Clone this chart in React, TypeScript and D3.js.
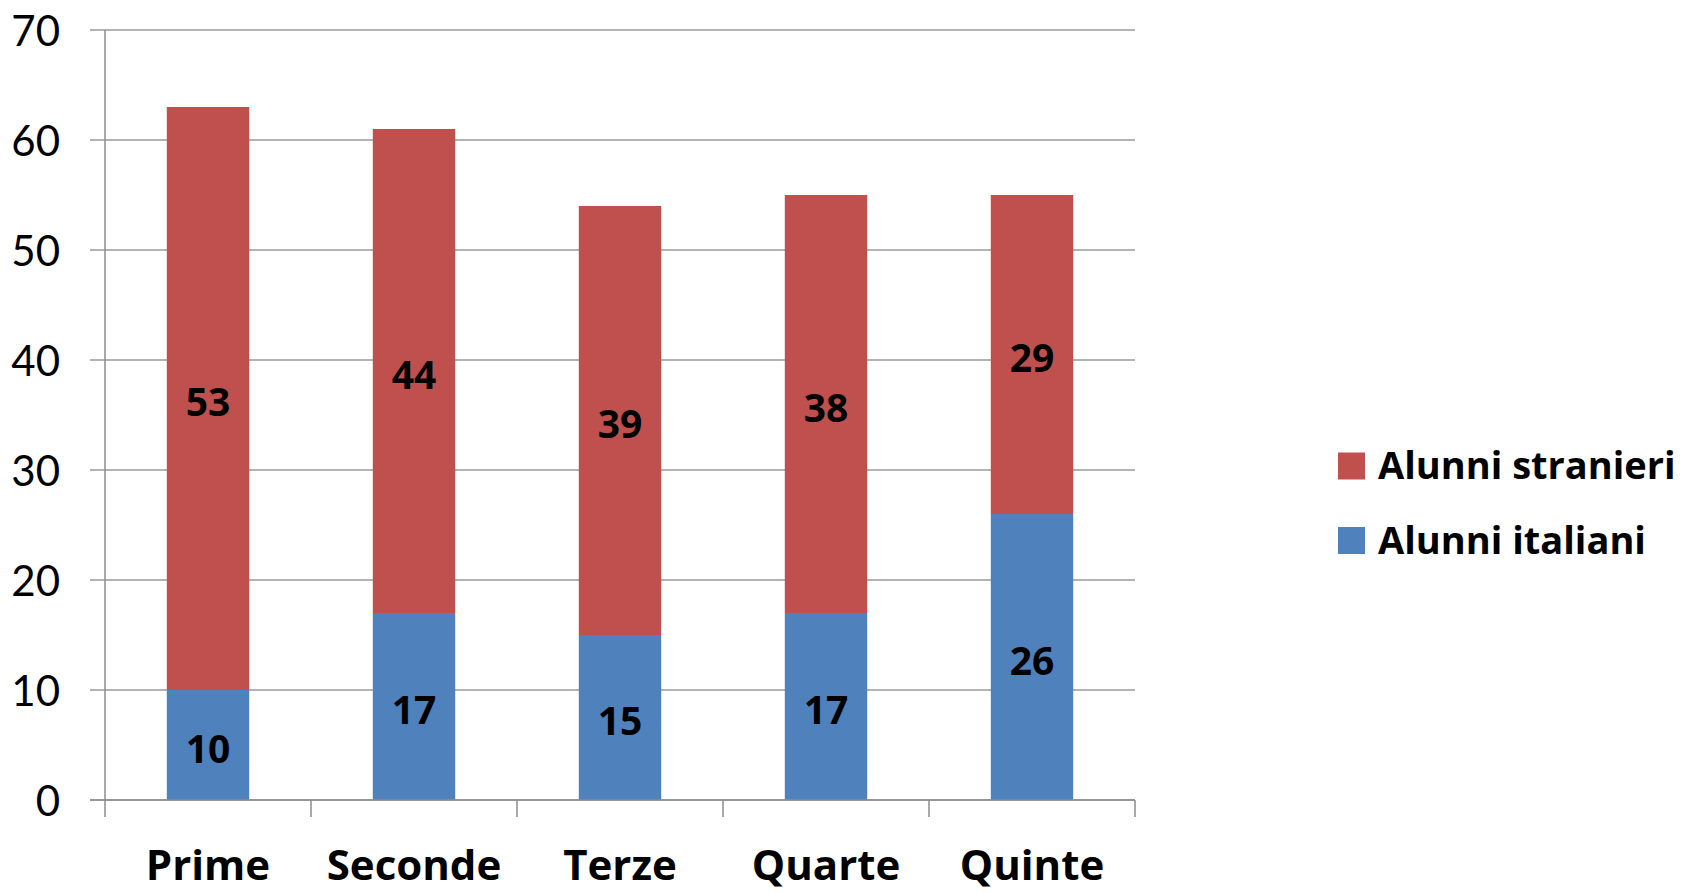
import React, { useRef, useEffect } from 'react';
import * as d3 from 'd3';

const categories = ['Prime', 'Seconde', 'Terze', 'Quarte', 'Quinte'];
const italiani = [10, 17, 15, 17, 26];
const stranieri = [53, 44, 39, 38, 29];
const yTicks = [0, 10, 20, 30, 40, 50, 60, 70];

const seriesNames = ['Alunni italiani', 'Alunni stranieri'];
const seriesColors = ['#4F81BD', '#C0504D'];

const W = 1692;
const H = 893;

export default function App() {
    const svgRef = useRef<SVGSVGElement>(null);

    useEffect(() => {
        document.body.style.margin = '0';
        if (!svgRef.current) return;
        const svg = d3.select(svgRef.current);
        svg.selectAll('*').remove();

        const margin = { top: 30, right: 557, bottom: 93, left: 105 };
        const innerW = W - margin.left - margin.right;
        const innerH = H - margin.top - margin.bottom;
        const font = 'Lato, "Open Sans", sans-serif';
        const boldFont = '"Open Sans", Lato, sans-serif';

        const g = svg.append('g').attr('transform', `translate(${margin.left},${margin.top})`);

        const x = d3.scaleBand<string>().domain(categories).range([0, innerW]).padding(0);
        const y = d3.scaleLinear().domain([0, 70]).range([innerH, 0]);

        const rows = categories.map((c, i) => ({ cat: c, italiani: italiani[i], stranieri: stranieri[i] }));
        const stack = d3.stack<any>().keys(['italiani', 'stranieri']);
        const layers = stack(rows);

        // gridlines
        g.append('g')
            .selectAll('line')
            .data(yTicks)
            .join('line')
            .attr('x1', -15)
            .attr('x2', innerW)
            .attr('y1', d => y(d))
            .attr('y2', d => y(d))
            .attr('stroke', '#9A9A9A')
            .attr('stroke-width', 1.5);

        // y tick labels
        g.append('g')
            .selectAll('text')
            .data(yTicks)
            .join('text')
            .attr('x', -45)
            .attr('y', d => y(d))
            .attr('text-anchor', 'end')
            .attr('dominant-baseline', 'central')
            .attr('font-family', font)
            .attr('font-size', 42)
            .attr('fill', '#000')
            .text(d => d);

        // bars
        const bw = x.bandwidth() * 0.4;
        layers.forEach((layer, li) => {
            g.append('g')
                .selectAll('rect')
                .data(layer)
                .join('rect')
                .attr('x', d => (x(d.data.cat) as number) + (x.bandwidth() - bw) / 2)
                .attr('y', d => y(d[1]))
                .attr('width', bw)
                .attr('height', d => y(d[0]) - y(d[1]))
                .attr('fill', seriesColors[li]);

            g.append('g')
                .selectAll('text')
                .data(layer)
                .join('text')
                .attr('x', d => (x(d.data.cat) as number) + x.bandwidth() / 2)
                .attr('y', d => y((d[0] + d[1]) / 2) + 2)
                .attr('text-anchor', 'middle')
                .attr('dominant-baseline', 'central')
                .attr('font-family', boldFont)
                .attr('font-weight', 'bold')
                .attr('font-size', 39)
                .attr('fill', '#000')
                .text(d => d[1] - d[0]);
        });

        // axes lines
        g.append('line')
            .attr('x1', 0).attr('x2', 0).attr('y1', 0).attr('y2', innerH)
            .attr('stroke', '#8C8C8C').attr('stroke-width', 1.5);
        g.append('line')
            .attr('x1', -15).attr('x2', innerW).attr('y1', innerH).attr('y2', innerH)
            .attr('stroke', '#8C8C8C').attr('stroke-width', 1.5);

        const bounds = [...categories.map(c => x(c) as number), innerW];
        g.append('g')
            .selectAll('line')
            .data(bounds)
            .join('line')
            .attr('x1', d => d).attr('x2', d => d)
            .attr('y1', innerH).attr('y2', innerH + 17)
            .attr('stroke', '#8C8C8C').attr('stroke-width', 1.5);

        // category labels
        g.append('g')
            .selectAll('text')
            .data(categories)
            .join('text')
            .attr('x', d => (x(d) as number) + x.bandwidth() / 2)
            .attr('y', innerH + 80)
            .attr('text-anchor', 'middle')
            .attr('font-family', boldFont)
            .attr('font-weight', 'bold')
            .attr('font-size', 42)
            .attr('fill', '#000')
            .text(d => d);

        // legend (stranieri on top)
        const legend = svg.append('g').attr('transform', 'translate(1338,0)');
        const legendItems = [1, 0];
        legendItems.forEach((si, k) => {
            const cy = 466 + k * 74.5;
            legend.append('rect')
                .attr('x', 0).attr('y', cy - 13.5)
                .attr('width', 27).attr('height', 27)
                .attr('fill', seriesColors[si]);
            legend.append('text')
                .attr('x', 40).attr('y', cy + 13)
                .attr('font-family', boldFont)
                .attr('font-weight', 'bold')
                .attr('font-size', 38)
                .attr('fill', '#000')
                .text(seriesNames[si]);
        });
    }, []);

    return <svg ref={svgRef} width={W} height={H} style={{ display: 'block', background: '#fff' }} />;
}
